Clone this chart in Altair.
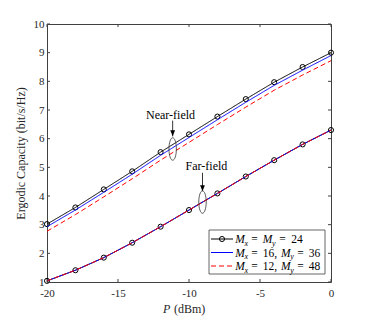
import altair as alt
import pandas as pd

# ---------------- data ----------------
p_dbm = [-20, -18, -16, -14, -12, -10, -8, -6, -4, -2, 0]
near_24 = [3.02, 3.60, 4.23, 4.86, 5.53, 6.15, 6.77, 7.38, 7.97, 8.50, 9.00]
near_16 = [2.93, 3.51, 4.13, 4.76, 5.42, 6.04, 6.66, 7.27, 7.86, 8.39, 8.90]
near_12 = [2.77, 3.35, 3.97, 4.60, 5.25, 5.87, 6.49, 7.10, 7.69, 8.22, 8.72]
far_24 = [1.04, 1.41, 1.85, 2.37, 2.93, 3.51, 4.09, 4.68, 5.25, 5.80, 6.30]
far_16 = [1.04, 1.41, 1.85, 2.37, 2.93, 3.51, 4.09, 4.68, 5.25, 5.80, 6.30]
far_12 = [1.04, 1.41, 1.85, 2.37, 2.93, 3.51, 4.09, 4.68, 5.25, 5.80, 6.30]
series_names = ["Mx = My = 24", "Mx = 16, My = 36", "Mx = 12, My = 48"]
series_colors = ["#000000", "#0000ff", "#ff0000"]

x_ticks = [-20, -15, -10, -5, 0]
y_ticks = [1, 2, 3, 4, 5, 6, 7, 8, 9, 10]

ann_labels = ["Near-field", "Far-field"]
ann_text_x = [-11.3, -8.77]
ann_text_y = [6.84, 5.04]
ann_arrow_x = [-11.15, -9.05]
ann_arrow_top = [6.63, 4.81]
ann_arrow_tip = [6.08, 4.17]
ann_ell_x = [-11.15, -9.05]
ann_ell_y = [5.64, 3.79]

# ---------------- layout ----------------
W, H = 284, 258
FONT = "Liberation Serif"
AX = "#404040"

xs = alt.Scale(domain=[-20, 0], nice=False, zero=False)
ys = alt.Scale(domain=[1, 10], nice=False, zero=False)

x_axis = alt.Axis(values=x_ticks, ticks=False, tickSize=0, domain=False, grid=False,
                  labelFont=FONT, labelFontSize=11, labelColor="#262626", labelPadding=5,
                  labelExpr="'' + datum.value", labelFlush=False, title=None)
y_axis = alt.Axis(values=y_ticks, ticks=False, tickSize=0, domain=False, grid=False,
                  labelFont=FONT, labelFontSize=11, labelColor="#262626", labelPadding=3,
                  title="Ergodic Capacity (bit/s/Hz)", titleFont=FONT, titleFontSize=12,
                  titleFontWeight="normal", titleColor="#262626", titlePadding=6)


def X(field):
    return alt.X(field, scale=xs, axis=x_axis)


def Y(field):
    return alt.Y(field, scale=ys, axis=y_axis)


curves = {
    series_names[0]: (near_24, far_24),
    series_names[1]: (near_16, far_16),
    series_names[2]: (near_12, far_12),
}

layers = []
dashes = [[1, 0], [1, 0], [5, 3]]
for i, name in enumerate(series_names):
    near, far = curves[name]
    rows = []
    for fld, vals in (("near", near), ("far", far)):
        for p, c in zip(p_dbm, vals):
            rows.append({"P": p, "C": c, "field": fld, "series": name})
    df = pd.DataFrame(rows)
    line = alt.Chart(df).mark_line(color=series_colors[i], strokeWidth=1,
                                   strokeDash=dashes[i]).encode(
        x=X("P:Q"), y=Y("C:Q"), detail="field:N")
    layers.append(line)
    if i == 0:
        pts = alt.Chart(df).mark_point(shape="circle", size=26, filled=False,
                                       color="#000000", strokeWidth=1, opacity=1).encode(
            x=X("P:Q"), y=Y("C:Q"))
        layers.append(pts)

# ---------------- ticks (inward, all four sides) ----------------
xt = pd.DataFrame({"P": x_ticks})
yt = pd.DataFrame({"C": y_ticks})
for y0, y1 in ((H, H - 3), (0, 3)):
    layers.append(alt.Chart(xt).mark_rule(color=AX, strokeWidth=1).encode(
        x=X("P:Q"), y=alt.value(y0), y2=alt.value(y1)))
for x0, x1 in ((0, 3), (W, W - 3)):
    layers.append(alt.Chart(yt).mark_rule(color=AX, strokeWidth=1).encode(
        y=Y("C:Q"), x=alt.value(x0), x2=alt.value(x1)))

# ---------------- annotations ----------------
ann = pd.DataFrame({"label": ann_labels, "tx": ann_text_x, "ty": ann_text_y,
                    "ax": ann_arrow_x, "a1": ann_arrow_top, "a2": ann_arrow_tip,
                    "ex": ann_ell_x, "ey": ann_ell_y})
layers.append(alt.Chart(ann).mark_text(font=FONT, fontSize=12, color="#000000",
                                       align="center", baseline="middle").encode(
    x=X("tx:Q"), y=Y("ty:Q"), text="label:N"))
layers.append(alt.Chart(ann).mark_rule(color="#000000", strokeWidth=0.8).encode(
    x=X("ax:Q"), y=Y("a1:Q"), y2="a2:Q"))
arrow_head = "M-0.4,-1 L0.4,-1 L0,0 Z"
layers.append(alt.Chart(ann).mark_point(shape=arrow_head, size=144, filled=True,
                                        color="#000000", opacity=1).encode(
    x=X("ax:Q"), y=Y("a2:Q")))
ellipse = ("M0,-1 C0.182,-1 0.33,-0.5523 0.33,0 C0.33,0.5523 0.182,1 0,1 "
           "C-0.182,1 -0.33,0.5523 -0.33,0 C-0.33,-0.5523 -0.182,-1 0,-1 Z")
layers.append(alt.Chart(ann).mark_point(shape=ellipse, size=506, filled=False,
                                        color="#333333", strokeWidth=0.8, opacity=1).encode(
    x=X("ex:Q"), y=Y("ey:Q")))

# ---------------- manual legend ----------------
one = pd.DataFrame({"d": [0]})
layers.append(alt.Chart(one).mark_rect(fill="white", stroke=AX, strokeWidth=0.8).encode(
    x=alt.value(162), x2=alt.value(278), y=alt.value(206), y2=alt.value(250)))
row_y = [215, 228.5, 242]
for i in range(3):
    layers.append(alt.Chart(one).mark_rule(color=series_colors[i], strokeWidth=1,
                                           strokeDash=dashes[i]).encode(
        x=alt.value(164), x2=alt.value(186), y=alt.value(row_y[i])))
layers.append(alt.Chart(one).mark_point(shape="circle", size=26, filled=False,
                                        color="#000000", strokeWidth=1, opacity=1).encode(
    x=alt.value(175), y=alt.value(row_y[0])))

nums = [("24",), ("16,", "36"), ("12,", "48")]
pieces = []
for i, ry in enumerate(row_y):
    if i == 0:
        pieces += [("M", "it", 188.3, ry), ("x", "sub", 197.5, ry), ("=", "rm", 204.3, ry),
                   ("M", "it", 215.7, ry), ("y", "sub", 225.0, ry), ("=", "rm", 232.3, ry),
                   ("24", "rm", 244.3, ry)]
    else:
        a, b = nums[i]
        pieces += [("M", "it", 188.3, ry), ("x", "sub", 197.5, ry), ("=", "rm", 204.3, ry),
                   (a, "rm", 215.7, ry), ("M", "it", 234.0, ry), ("y", "sub", 243.3, ry),
                   ("=", "rm", 250.3, ry), (b, "rm", 261.7, ry)]
for txt, kind, px, ry in pieces:
    if kind == "sub":
        mk = alt.Chart(one).mark_text(font=FONT, fontSize=8, fontStyle="italic",
                                      align="left", baseline="alphabetic", color="#000000")
        yy = ry + 6.5
    else:
        mk = alt.Chart(one).mark_text(font=FONT, fontSize=11.5,
                                      fontStyle="italic" if kind == "it" else "normal",
                                      align="left", baseline="alphabetic", color="#000000")
        yy = ry + 4
    layers.append(mk.encode(x=alt.value(px), y=alt.value(yy), text=alt.value(txt)))

# ---------------- x title: P (dBm) ----------------
layers.append(alt.Chart(one).mark_text(font=FONT, fontSize=12, fontStyle="italic",
                                       align="left", baseline="alphabetic", color="#262626").encode(
    x=alt.value(W / 2 - 26), y=alt.value(H + 31), text=alt.value("P")))
layers.append(alt.Chart(one).mark_text(font=FONT, fontSize=12,
                                       align="left", baseline="alphabetic", color="#262626").encode(
    x=alt.value(W / 2 - 15), y=alt.value(H + 31), text=alt.value("(dBm)")))

chart = alt.layer(*layers).properties(
    width=W, height=H,
    padding={"left": 39, "top": 16, "right": 20, "bottom": 34},
    autosize=alt.AutoSizeParams(type="none"),
    background="white",
).configure_view(stroke=AX, strokeWidth=1)

chart.save("out.html", embed_options={"renderer": "svg", "actions": False})
